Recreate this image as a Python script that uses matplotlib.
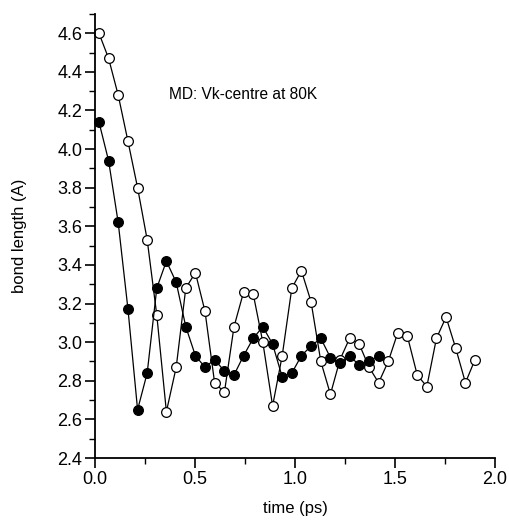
import matplotlib
matplotlib.use("Agg")
import matplotlib.pyplot as plt
from matplotlib.ticker import MultipleLocator, FormatStrFormatter

plt.rcParams['font.family'] = ['Liberation Sans', 'DejaVu Sans']

time_ps = [0.020, 0.068, 0.116, 0.165, 0.213, 0.261, 0.309, 0.357, 0.406, 0.454,
           0.502, 0.550, 0.598, 0.647, 0.695, 0.743, 0.791, 0.839, 0.888, 0.936,
           0.984, 1.032, 1.080, 1.129, 1.177, 1.225, 1.273, 1.321, 1.370, 1.418,
           1.466, 1.514, 1.562, 1.611, 1.659, 1.707, 1.755, 1.803, 1.852, 1.900]

filled_vals = [4.14, 3.94, 3.62, 3.17, 2.65, 2.84, 3.28, 3.42, 3.31, 3.08,
               2.93, 2.87, 2.91, 2.85, 2.83, 2.93, 3.02, 3.08, 2.99, 2.82,
               2.84, 2.93, 2.98, 3.02, 2.92, 2.89, 2.93, 2.88, 2.90, 2.93]

open_vals = [4.60, 4.47, 4.28, 4.04, 3.80, 3.53, 3.14, 2.64, 2.87, 3.28,
             3.36, 3.16, 2.79, 2.74, 3.08, 3.26, 3.25, 3.00, 2.67, 2.93,
             3.28, 3.37, 3.21, 2.90, 2.73, 2.91, 3.02, 2.99, 2.87, 2.79,
             2.90, 3.05, 3.03, 2.83, 2.77, 3.02, 3.13, 2.97, 2.79, 2.91]

fig = plt.figure(figsize=(5.09, 5.20), dpi=100)
ax = fig.add_axes([0.1866, 0.1192, 0.786, 0.854])

ax.plot(time_ps[:len(open_vals)], open_vals, '-o', color='black', lw=0.9,
        markersize=7, markerfacecolor='white', markeredgecolor='black',
        markeredgewidth=0.9, zorder=2, clip_on=False)
ax.plot(time_ps[:len(filled_vals)], filled_vals, '-o', color='black', lw=0.9,
        markersize=7, markerfacecolor='black', markeredgecolor='black',
        markeredgewidth=0.9, zorder=3, clip_on=False)

ax.set_xlim(0.0, 2.0)
ax.set_ylim(2.4, 4.7)
ax.xaxis.set_major_locator(MultipleLocator(0.5))
ax.xaxis.set_minor_locator(MultipleLocator(0.25))
ax.yaxis.set_major_locator(MultipleLocator(0.2))
ax.yaxis.set_minor_locator(MultipleLocator(0.1))
ax.xaxis.set_major_formatter(FormatStrFormatter('%.1f'))
ax.yaxis.set_major_formatter(FormatStrFormatter('%.1f'))

for s in ['top', 'right']:
    ax.spines[s].set_visible(False)
for s in ['left', 'bottom']:
    ax.spines[s].set_linewidth(1.3)
ax.tick_params(which='major', direction='out', length=7, width=1.2, labelsize=13, pad=2)
ax.tick_params(which='minor', direction='out', length=4.5, width=1.0)

ax.set_xlabel('time (ps)', fontsize=12, labelpad=10)
ax.set_ylabel('bond length (A)', fontsize=12, labelpad=22)

ax.text(0.37, 4.285, 'MD: Vk-centre at 80K', fontsize=11.2, va='center', ha='left')

fig.savefig('out.png', dpi=100)
